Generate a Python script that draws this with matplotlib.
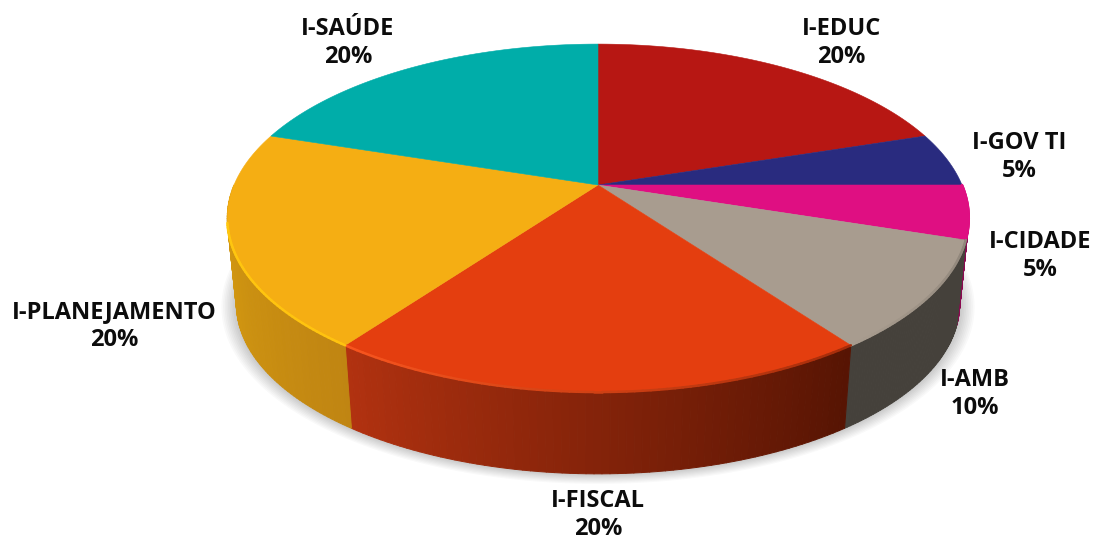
import numpy as np
import matplotlib
matplotlib.use("Agg")
import matplotlib.pyplot as plt
from matplotlib.collections import PolyCollection, LineCollection
from matplotlib.colors import to_rgb
from matplotlib.path import Path
from matplotlib.transforms import Affine2D, Transform

labels = ["I-EDUC", "I-GOV TI", "I-CIDADE", "I-AMB", "I-FISCAL", "I-PLANEJAMENTO", "I-SAÚDE"]
values = [20, 5, 5, 10, 20, 20, 20]
colors = ["#B71713", "#292B7F", "#DF0F82", "#A89C8F", "#E43E0F", "#F5AE13", "#00ADA9"]
# wall shade (as seen, left end, right end) for each slice
wall_left = ["#7a0f0c", "#1b1c55", "#8a0a50", "#45413B", "#B23210", "#D99E10", "#007774"]
wall_right = ["#7a0f0c", "#1b1c55", "#8a0a50", "#45413B", "#561403", "#C08512", "#007774"]
rim_left = ["#B71713", "#292B7F", "#DF0F82", "#A89C8F", "#FA561F", "#FFC80F", "#00ADA9"]
rim_right = ["#B71713", "#292B7F", "#DF0F82", "#8F857A", "#A52C0A", "#FFC30F", "#00ADA9"]
label_xy = [(841, 43), (1019, 157), (1040, 256), (975, 394), (598, 515), (114, 326), (348, 43)]


class Perspective(Transform):
    input_dims = output_dims = 2

    def __init__(self, cx, cy, a, b, k):
        super().__init__()
        self.p = (cx, cy, a, b, k)

    def transform_non_affine(self, xy):
        xy = np.asarray(xy, float)
        cx, cy, a, b, k = self.p
        w = 1 + k * xy[:, 1]
        return np.column_stack([cx + a * xy[:, 0] / w, cy - b * xy[:, 1] / w])

    def transform_path_non_affine(self, path):
        big = path.transformed(Affine2D().scale(2000))
        poly = big.to_polygons(closed_only=True)[0] / 2000
        return Path(self.transform_non_affine(poly), closed=True)


K = 0.19
top = Perspective(598, 185, 364, 167.7, K)
bottom = Perspective(598, 272, 355, 163.5, K)


def ring(tf, theta, r=1.0):
    t = np.radians(theta)
    return tf.transform_non_affine(np.column_stack([r * np.cos(t), r * np.sin(t)]))


def mix(c1, c2, f):
    return tuple((1 - f) * np.array(to_rgb(c1)) + f * np.array(to_rgb(c2)))


fig = plt.figure(figsize=(10.96, 5.43), dpi=100)
ax = fig.add_axes([0, 0, 1, 1])
wedges, _ = ax.pie(values, colors=colors, startangle=90, counterclock=False,
                   wedgeprops={"linewidth": 0.4}, frame=False)
ax.set_aspect("auto")
ax.set_xlim(0, 1096)
ax.set_ylim(543, 0)
ax.axis("off")

# soft shadow under the disc
arc = np.linspace(180, 360, 200)
for d in np.linspace(0.04, 0.004, 9):
    outer = ring(bottom, arc, 1 + d)
    inner = ring(top, arc[::-1], 0.9)
    ax.fill(*np.vstack([outer, inner]).T, color="#000000", alpha=0.024, lw=0, zorder=1)

# side walls and top rim, sliced by each wedge's own angles
for i, w in enumerate(wedges):
    a, b = sorted((w.theta1 % 360, (w.theta2 % 360) or 360))
    lo, hi = max(a, 180), min(b, 360)
    w.set_transform(top + ax.transData)
    w.set_edgecolor(colors[i])
    w.set_zorder(4)
    if i == 1:
        continue
    if hi <= lo:
        continue
    th = np.linspace(lo, hi, 70)
    pt, pb = ring(top, th), ring(bottom, th)
    n = len(th) - 1
    polys = [[pt[j], pt[j + 1], pb[j + 1], pb[j]] for j in range(n)]
    cols = [mix(wall_left[i], wall_right[i], (j + 0.5) / n) for j in range(n)]
    ax.add_collection(PolyCollection(polys, facecolors=cols, edgecolors=cols, linewidths=0.7, zorder=3))
    keep = [j for j in range(n) if th[j] >= 192]
    segs = [[pt[j], pt[j + 1]] for j in keep]
    rc = [mix(rim_left[i], rim_right[i], (j + 0.5) / n) for j in keep]
    ax.add_collection(LineCollection(segs, colors=rc, linewidths=1.8, zorder=5, capstyle="round"))

for name, val, (x, y) in zip(labels, values, label_xy):
    ax.text(x, y, f"{name}\n{val}%", ha="center", va="center", family="Open Sans",
            fontweight="bold", fontsize=17, color="#0c0c0c", linespacing=1.22, zorder=6)

fig.savefig("out.png", dpi=100)
